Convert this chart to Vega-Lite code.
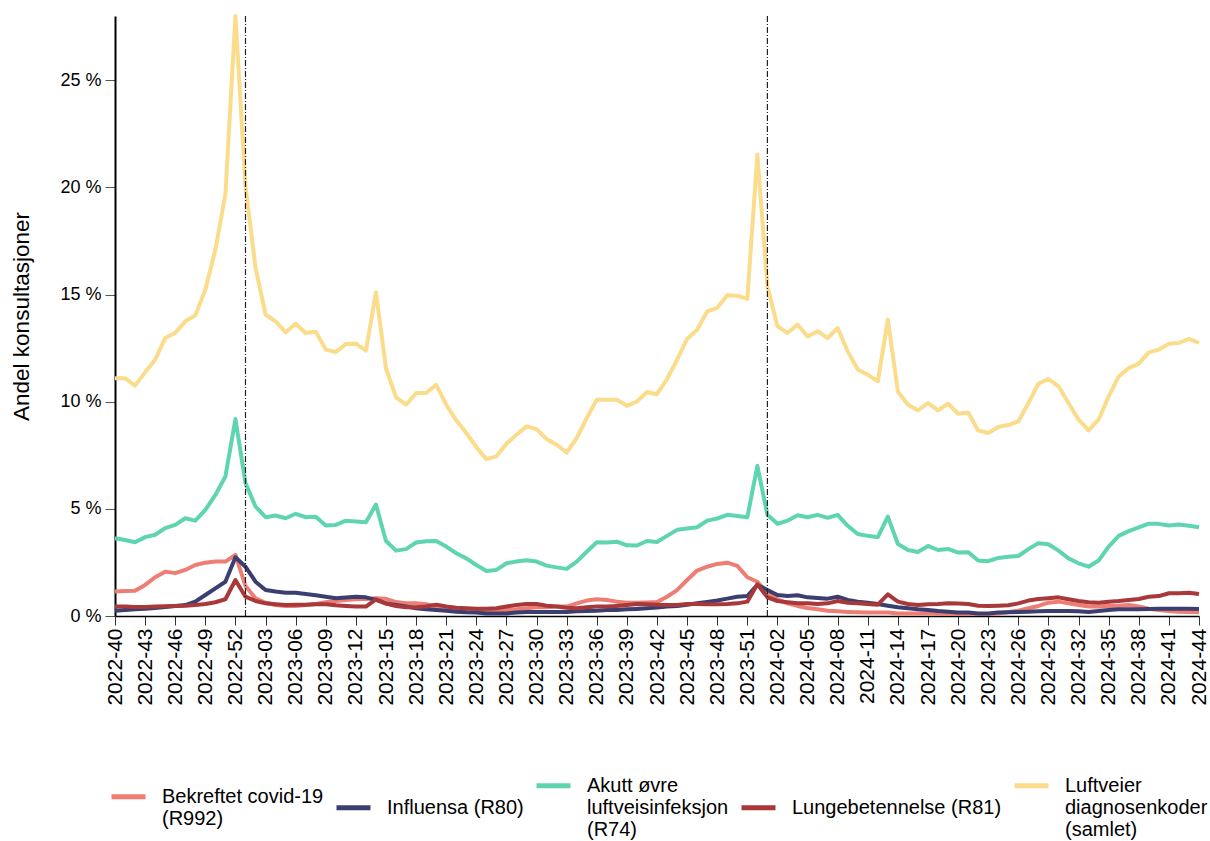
{
 "$schema": "https://vega.github.io/schema/vega-lite/v6.json",
 "width": 1084, "height": 600,
 "autosize": {"type": "none"},
 "padding": {"left": 115, "top": 16, "right": 11, "bottom": 225},
 "background": "white",
 "config": {"font": "Liberation Sans", "view": {"stroke": null}},
 "datasets": {"d": [
{"w":"2022-40","covid":1.14,"influensa":0.25,"akutt":3.63,"lunge":0.44,"luftveier":11.1},
{"w":"2022-41","covid":1.17,"influensa":0.28,"akutt":3.55,"lunge":0.44,"luftveier":11.1},
{"w":"2022-42","covid":1.18,"influensa":0.31,"akutt":3.44,"lunge":0.42,"luftveier":10.75},
{"w":"2022-43","covid":1.45,"influensa":0.34,"akutt":3.68,"lunge":0.42,"luftveier":11.37},
{"w":"2022-44","covid":1.81,"influensa":0.37,"akutt":3.79,"lunge":0.44,"luftveier":11.96},
{"w":"2022-45","covid":2.07,"influensa":0.42,"akutt":4.1,"lunge":0.45,"luftveier":12.97},
{"w":"2022-46","covid":2.0,"influensa":0.47,"akutt":4.25,"lunge":0.47,"luftveier":13.21},
{"w":"2022-47","covid":2.15,"influensa":0.51,"akutt":4.56,"lunge":0.48,"luftveier":13.75},
{"w":"2022-48","covid":2.38,"influensa":0.67,"akutt":4.45,"lunge":0.51,"luftveier":14.02},
{"w":"2022-49","covid":2.49,"influensa":0.98,"akutt":4.95,"lunge":0.56,"luftveier":15.23},
{"w":"2022-50","covid":2.54,"influensa":1.29,"akutt":5.65,"lunge":0.64,"luftveier":17.1},
{"w":"2022-51","covid":2.54,"influensa":1.6,"akutt":6.51,"lunge":0.78,"luftveier":19.67},
{"w":"2022-52","covid":2.85,"influensa":2.74,"akutt":9.19,"lunge":1.68,"luftveier":28.0},
{"w":"2023-01","covid":1.4,"influensa":2.3,"akutt":6.2,"lunge":0.9,"luftveier":20.06},
{"w":"2023-02","covid":0.83,"influensa":1.6,"akutt":5.11,"lunge":0.7,"luftveier":16.25},
{"w":"2023-03","covid":0.62,"influensa":1.21,"akutt":4.61,"lunge":0.59,"luftveier":14.07},
{"w":"2023-04","covid":0.51,"influensa":1.14,"akutt":4.69,"lunge":0.55,"luftveier":13.75},
{"w":"2023-05","covid":0.47,"influensa":1.09,"akutt":4.56,"lunge":0.51,"luftveier":13.24},
{"w":"2023-06","covid":0.47,"influensa":1.09,"akutt":4.77,"lunge":0.53,"luftveier":13.64},
{"w":"2023-07","covid":0.51,"influensa":1.03,"akutt":4.61,"lunge":0.53,"luftveier":13.21},
{"w":"2023-08","covid":0.56,"influensa":0.97,"akutt":4.63,"lunge":0.55,"luftveier":13.27},
{"w":"2023-09","covid":0.64,"influensa":0.9,"akutt":4.22,"lunge":0.55,"luftveier":12.43},
{"w":"2023-10","covid":0.7,"influensa":0.83,"akutt":4.25,"lunge":0.5,"luftveier":12.32},
{"w":"2023-11","covid":0.75,"influensa":0.86,"akutt":4.45,"lunge":0.47,"luftveier":12.69},
{"w":"2023-12","covid":0.78,"influensa":0.9,"akutt":4.41,"lunge":0.44,"luftveier":12.71},
{"w":"2023-13","covid":0.79,"influensa":0.87,"akutt":4.38,"lunge":0.44,"luftveier":12.38},
{"w":"2023-14","covid":0.83,"influensa":0.75,"akutt":5.2,"lunge":0.78,"luftveier":15.11},
{"w":"2023-15","covid":0.8,"influensa":0.59,"akutt":3.5,"lunge":0.58,"luftveier":11.55},
{"w":"2023-16","covid":0.65,"influensa":0.51,"akutt":3.05,"lunge":0.47,"luftveier":10.2},
{"w":"2023-17","covid":0.59,"influensa":0.44,"akutt":3.12,"lunge":0.41,"luftveier":9.86},
{"w":"2023-18","covid":0.59,"influensa":0.36,"akutt":3.43,"lunge":0.41,"luftveier":10.41},
{"w":"2023-19","covid":0.55,"influensa":0.31,"akutt":3.49,"lunge":0.44,"luftveier":10.41},
{"w":"2023-20","covid":0.44,"influensa":0.28,"akutt":3.5,"lunge":0.53,"luftveier":10.79},
{"w":"2023-21","covid":0.36,"influensa":0.25,"akutt":3.24,"lunge":0.44,"luftveier":9.86},
{"w":"2023-22","covid":0.33,"influensa":0.2,"akutt":2.93,"lunge":0.39,"luftveier":9.13},
{"w":"2023-23","covid":0.31,"influensa":0.17,"akutt":2.69,"lunge":0.36,"luftveier":8.54},
{"w":"2023-24","covid":0.28,"influensa":0.16,"akutt":2.38,"lunge":0.34,"luftveier":7.88},
{"w":"2023-25","covid":0.25,"influensa":0.12,"akutt":2.1,"lunge":0.34,"luftveier":7.32},
{"w":"2023-26","covid":0.25,"influensa":0.12,"akutt":2.15,"lunge":0.36,"luftveier":7.45},
{"w":"2023-27","covid":0.28,"influensa":0.12,"akutt":2.46,"lunge":0.44,"luftveier":8.04},
{"w":"2023-28","covid":0.31,"influensa":0.16,"akutt":2.54,"lunge":0.51,"luftveier":8.46},
{"w":"2023-29","covid":0.36,"influensa":0.19,"akutt":2.6,"lunge":0.56,"luftveier":8.85},
{"w":"2023-30","covid":0.41,"influensa":0.19,"akutt":2.54,"lunge":0.56,"luftveier":8.72},
{"w":"2023-31","covid":0.41,"influensa":0.19,"akutt":2.35,"lunge":0.48,"luftveier":8.26},
{"w":"2023-32","covid":0.44,"influensa":0.19,"akutt":2.27,"lunge":0.44,"luftveier":7.99},
{"w":"2023-33","covid":0.44,"influensa":0.19,"akutt":2.2,"lunge":0.39,"luftveier":7.63},
{"w":"2023-34","covid":0.59,"influensa":0.22,"akutt":2.54,"lunge":0.36,"luftveier":8.3},
{"w":"2023-35","covid":0.72,"influensa":0.23,"akutt":3.0,"lunge":0.41,"luftveier":9.24},
{"w":"2023-36","covid":0.78,"influensa":0.25,"akutt":3.44,"lunge":0.44,"luftveier":10.09},
{"w":"2023-37","covid":0.75,"influensa":0.28,"akutt":3.43,"lunge":0.44,"luftveier":10.09},
{"w":"2023-38","covid":0.67,"influensa":0.28,"akutt":3.47,"lunge":0.47,"luftveier":10.09},
{"w":"2023-39","covid":0.62,"influensa":0.31,"akutt":3.3,"lunge":0.51,"luftveier":9.81},
{"w":"2023-40","covid":0.62,"influensa":0.33,"akutt":3.29,"lunge":0.56,"luftveier":10.01},
{"w":"2023-41","covid":0.63,"influensa":0.36,"akutt":3.5,"lunge":0.55,"luftveier":10.45},
{"w":"2023-42","covid":0.65,"influensa":0.4,"akutt":3.45,"lunge":0.53,"luftveier":10.35},
{"w":"2023-43","covid":0.9,"influensa":0.44,"akutt":3.74,"lunge":0.51,"luftveier":11.06},
{"w":"2023-44","covid":1.21,"influensa":0.47,"akutt":4.02,"lunge":0.51,"luftveier":11.96},
{"w":"2023-45","covid":1.68,"influensa":0.53,"akutt":4.08,"lunge":0.56,"luftveier":12.93},
{"w":"2023-46","covid":2.12,"influensa":0.59,"akutt":4.14,"lunge":0.56,"luftveier":13.36},
{"w":"2023-47","covid":2.3,"influensa":0.65,"akutt":4.45,"lunge":0.55,"luftveier":14.22},
{"w":"2023-48","covid":2.43,"influensa":0.72,"akutt":4.55,"lunge":0.55,"luftveier":14.38},
{"w":"2023-49","covid":2.49,"influensa":0.81,"akutt":4.72,"lunge":0.56,"luftveier":14.97},
{"w":"2023-50","covid":2.34,"influensa":0.9,"akutt":4.67,"lunge":0.59,"luftveier":14.95},
{"w":"2023-51","covid":1.81,"influensa":0.93,"akutt":4.61,"lunge":0.67,"luftveier":14.8},
{"w":"2023-52","covid":1.6,"influensa":1.45,"akutt":7.01,"lunge":1.48,"luftveier":21.54},
{"w":"2024-01","covid":1.06,"influensa":1.21,"akutt":4.72,"lunge":0.87,"luftveier":15.39},
{"w":"2024-02","covid":0.78,"influensa":0.98,"akutt":4.3,"lunge":0.7,"luftveier":13.52},
{"w":"2024-03","covid":0.59,"influensa":0.93,"akutt":4.45,"lunge":0.64,"luftveier":13.21},
{"w":"2024-04","covid":0.47,"influensa":0.97,"akutt":4.7,"lunge":0.59,"luftveier":13.6},
{"w":"2024-05","covid":0.37,"influensa":0.87,"akutt":4.61,"lunge":0.59,"luftveier":13.05},
{"w":"2024-06","covid":0.31,"influensa":0.84,"akutt":4.72,"lunge":0.56,"luftveier":13.29},
{"w":"2024-07","covid":0.25,"influensa":0.81,"akutt":4.58,"lunge":0.59,"luftveier":12.97},
{"w":"2024-08","covid":0.22,"influensa":0.9,"akutt":4.72,"lunge":0.7,"luftveier":13.44},
{"w":"2024-09","covid":0.19,"influensa":0.75,"akutt":4.21,"lunge":0.62,"luftveier":12.35},
{"w":"2024-10","covid":0.17,"influensa":0.67,"akutt":3.83,"lunge":0.59,"luftveier":11.5},
{"w":"2024-11","covid":0.16,"influensa":0.62,"akutt":3.74,"lunge":0.56,"luftveier":11.26},
{"w":"2024-12","covid":0.16,"influensa":0.56,"akutt":3.68,"lunge":0.53,"luftveier":10.95},
{"w":"2024-13","covid":0.16,"influensa":0.48,"akutt":4.64,"lunge":1.01,"luftveier":13.83},
{"w":"2024-14","covid":0.12,"influensa":0.41,"akutt":3.36,"lunge":0.67,"luftveier":10.48},
{"w":"2024-15","covid":0.12,"influensa":0.36,"akutt":3.08,"lunge":0.56,"luftveier":9.86},
{"w":"2024-16","covid":0.12,"influensa":0.31,"akutt":2.99,"lunge":0.51,"luftveier":9.6},
{"w":"2024-17","covid":0.12,"influensa":0.28,"akutt":3.27,"lunge":0.55,"luftveier":9.94},
{"w":"2024-18","covid":0.11,"influensa":0.23,"akutt":3.08,"lunge":0.56,"luftveier":9.6},
{"w":"2024-19","covid":0.09,"influensa":0.2,"akutt":3.13,"lunge":0.59,"luftveier":9.91},
{"w":"2024-20","covid":0.09,"influensa":0.16,"akutt":2.96,"lunge":0.58,"luftveier":9.44},
{"w":"2024-21","covid":0.09,"influensa":0.16,"akutt":2.98,"lunge":0.56,"luftveier":9.5},
{"w":"2024-22","covid":0.09,"influensa":0.12,"akutt":2.59,"lunge":0.48,"luftveier":8.66},
{"w":"2024-23","covid":0.09,"influensa":0.12,"akutt":2.56,"lunge":0.47,"luftveier":8.54},
{"w":"2024-24","covid":0.12,"influensa":0.16,"akutt":2.71,"lunge":0.48,"luftveier":8.82},
{"w":"2024-25","covid":0.19,"influensa":0.17,"akutt":2.76,"lunge":0.5,"luftveier":8.91},
{"w":"2024-26","covid":0.25,"influensa":0.19,"akutt":2.8,"lunge":0.59,"luftveier":9.08},
{"w":"2024-27","covid":0.36,"influensa":0.2,"akutt":3.12,"lunge":0.72,"luftveier":9.94},
{"w":"2024-28","covid":0.47,"influensa":0.22,"akutt":3.4,"lunge":0.79,"luftveier":10.84},
{"w":"2024-29","covid":0.62,"influensa":0.23,"akutt":3.35,"lunge":0.83,"luftveier":11.06},
{"w":"2024-30","covid":0.67,"influensa":0.23,"akutt":3.05,"lunge":0.87,"luftveier":10.72},
{"w":"2024-31","covid":0.59,"influensa":0.23,"akutt":2.69,"lunge":0.78,"luftveier":9.94},
{"w":"2024-32","covid":0.51,"influensa":0.22,"akutt":2.46,"lunge":0.7,"luftveier":9.16},
{"w":"2024-33","covid":0.44,"influensa":0.19,"akutt":2.3,"lunge":0.64,"luftveier":8.66},
{"w":"2024-34","covid":0.44,"influensa":0.23,"akutt":2.59,"lunge":0.62,"luftveier":9.16},
{"w":"2024-35","covid":0.47,"influensa":0.28,"akutt":3.24,"lunge":0.67,"luftveier":10.25},
{"w":"2024-36","covid":0.48,"influensa":0.31,"akutt":3.74,"lunge":0.7,"luftveier":11.18},
{"w":"2024-37","covid":0.51,"influensa":0.31,"akutt":3.96,"lunge":0.75,"luftveier":11.57},
{"w":"2024-38","covid":0.44,"influensa":0.31,"akutt":4.14,"lunge":0.79,"luftveier":11.78},
{"w":"2024-39","covid":0.34,"influensa":0.33,"akutt":4.31,"lunge":0.9,"luftveier":12.3},
{"w":"2024-40","covid":0.28,"influensa":0.34,"akutt":4.3,"lunge":0.93,"luftveier":12.43},
{"w":"2024-41","covid":0.23,"influensa":0.34,"akutt":4.22,"lunge":1.06,"luftveier":12.71},
{"w":"2024-42","covid":0.2,"influensa":0.34,"akutt":4.27,"lunge":1.06,"luftveier":12.74},
{"w":"2024-43","covid":0.19,"influensa":0.34,"akutt":4.21,"lunge":1.09,"luftveier":12.93},
{"w":"2024-44","covid":0.17,"influensa":0.33,"akutt":4.14,"lunge":1.03,"luftveier":12.74}
 ]},
 "layer": [
  {
   "data": {"name": "d"},
   "transform": [{"fold": ["covid", "influensa", "akutt", "lunge", "luftveier"], "as": ["serie", "verdi"]}],
   "mark": {"type": "line", "strokeWidth": 4, "strokeJoin": "round"},
   "encoding": {
    "x": {"field": "w", "type": "ordinal", "scale": {"type": "point", "padding": 0},
      "axis": {"title": null, "values": ["2022-40","2022-43","2022-46","2022-49","2022-52","2023-03","2023-06","2023-09","2023-12","2023-15","2023-18","2023-21","2023-24","2023-27","2023-30","2023-33","2023-36","2023-39","2023-42","2023-45","2023-48","2023-51","2024-02","2024-05","2024-08","2024-11","2024-14","2024-17","2024-20","2024-23","2024-26","2024-29","2024-32","2024-35","2024-38","2024-41","2024-44"],
        "labelAngle": 270, "labelAlign": "right", "labelBaseline": "middle", "labelFontSize": 21, "labelColor": "#000",
        "domainColor": "#000", "domainWidth": 1.5, "tickColor": "#333", "tickSize": 9, "labelPadding": 3, "grid": false}},
    "y": {"field": "verdi", "type": "quantitative", "scale": {"domain": [0, 28], "nice": false},
      "axis": {"title": "Andel konsultasjoner", "titleFontSize": 22.5, "titleFontWeight": "normal", "titleColor": "#000", "titlePadding": 26,
        "values": [0, 5, 10, 15, 20, 25], "labelExpr": "datum.value + ' %'", "labelFontSize": 18, "labelColor": "#000",
        "domainColor": "#000", "domainWidth": 2, "tickColor": "#555", "tickSize": 10, "labelPadding": 4, "grid": false}},
    "color": {"field": "serie", "type": "nominal",
      "scale": {"domain": ["covid", "influensa", "akutt", "lunge", "luftveier"], "range": ["#ee7d74", "#3b3f6f", "#5fd4b1", "#a8383a", "#fbdc8b"]},
      "legend": {"orient": "none", "legendX": -6, "legendY": 750, "direction": "horizontal", "title": null,
        "symbolType": "stroke", "symbolSize": 1156, "symbolStrokeWidth": 5, "labelFontSize": 20, "labelColor": "#000", "labelLimit": 400, "labelOffset": 14, "columnPadding": 2,
        "labelExpr": "datum.label == 'covid' ? ['Bekreftet covid-19', '(R992)'] : datum.label == 'influensa' ? 'Influensa (R80)' : datum.label == 'akutt' ? ['Akutt øvre', 'luftveisinfeksjon', '(R74)'] : datum.label == 'lunge' ? 'Lungebetennelse (R81)' : ['Luftveier', 'diagnosenkoder', '(samlet)']"}}
   }
  },
  {
   "data": {"values": [{"w": "2023-01"}, {"w": "2024-01"}]},
   "mark": {"type": "rule", "strokeDash": [6, 2, 1, 2], "color": "#222", "strokeWidth": 1.2},
   "encoding": {"x": {"field": "w", "type": "ordinal"}}
  }
 ]
}
